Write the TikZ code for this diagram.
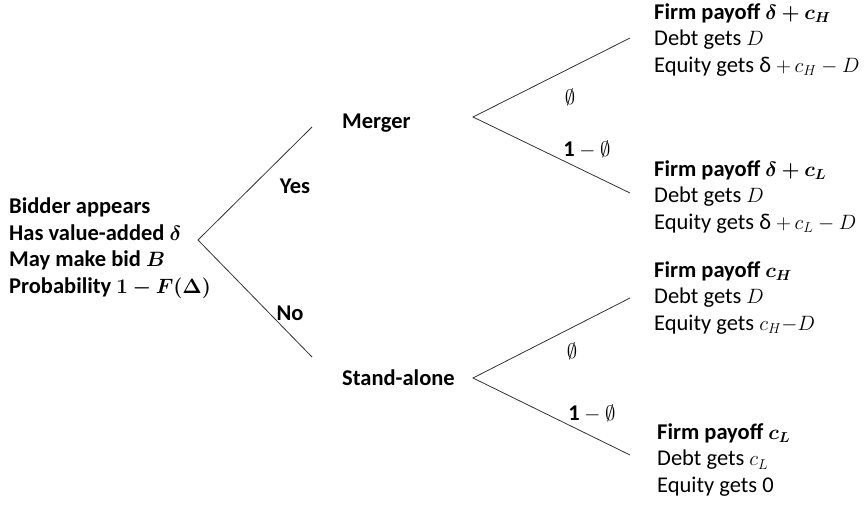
\documentclass[tikz,border=0pt]{standalone}
\usepackage{fontspec}
\setmainfont{Carlito}
\usepackage{amsmath,amssymb,bm}
\begin{document}
\begin{tikzpicture}[x=1pt, y=-1pt,
    lbl/.style={font=\fontsize{22.5}{26.5}\selectfont, inner sep=0pt},
    blbl/.style={lbl, font=\fontsize{22.5}{26.5}\selectfont\bfseries},
    leaf/.style={lbl, align=left, anchor=west},
    edge/.style={line width=0.8pt, black!80}]
  \useasboundingbox (0,0) rectangle (868,504);
  % root
  \node[blbl, align=left, anchor=west] (bidder) at (9,248)
    {Bidder appears\\Has value-added $\bm{\delta}$\\May make bid $\bm{B}$\\Probability $\bm{1-F(\Delta)}$};
  \coordinate (root) at (198,240);
  \coordinate (yesend) at (312,127);
  \coordinate (noend) at (312,357);
  \node[blbl] (yes) at (295,186) {Yes};
  \node[blbl] (no) at (290,313) {No};
  % second stage
  \node[blbl, anchor=west] (merger) at (342,123) {Merger};
  \node[blbl, anchor=west] (alone) at (342,378) {Stand-alone};
  \coordinate (m) at (473,117);
  \coordinate (s) at (473,378);
  \foreach \apex/\up/\dn in {m/38/193, s/298/455} {
    \coordinate (\apex up) at (630,\up);
    \coordinate (\apex dn) at (630,\dn);
  }
  \node[lbl] (mphi) at (570,97) {$\emptyset$};
  \node[lbl] (mone) at (587,150) {$\mathbf{1}-\emptyset$};
  \node[lbl] (sphi) at (572,351) {$\emptyset$};
  \node[lbl] (sone) at (592,414) {$\mathbf{1}-\emptyset$};
  % payoffs
  \node[leaf] (mh) at (654,40)
    {\textbf{Firm payoff} $\bm{\delta+c_H}$\\Debt gets $D$\\Equity gets δ $+\,c_H-D$};
  \node[leaf] (ml) at (654,197)
    {\textbf{Firm payoff} $\bm{\delta+c_L}$\\Debt gets $D$\\Equity gets δ $+\,c_L-D$};
  \node[leaf] (sh) at (654,298)
    {\textbf{Firm payoff} $\bm{c_H}$\\Debt gets $D$\\Equity gets $c_H{-}D$};
  \node[leaf] (sl) at (657,460)
    {\textbf{Firm payoff} $\bm{c_L}$\\Debt gets $c_L$\\Equity gets 0};
  \draw[edge] (yesend) -- (root) -- (noend);
  \draw[edge] (mup) -- (m) -- (mdn);
  \draw[edge] (sup) -- (s) -- (sdn);
\end{tikzpicture}
\end{document}
